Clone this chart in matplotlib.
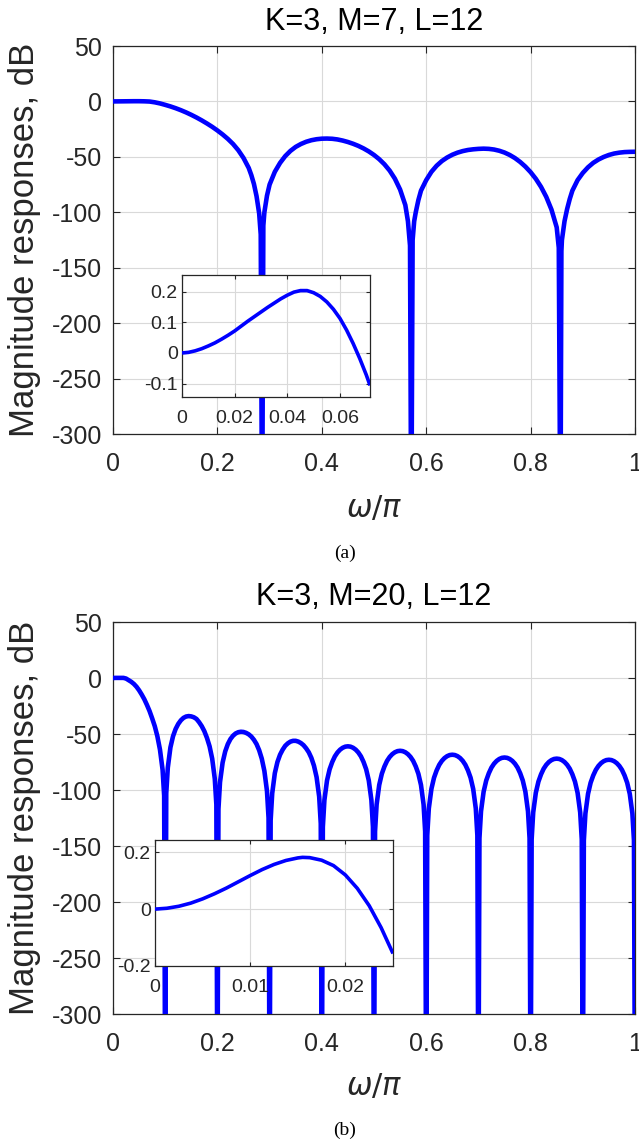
import matplotlib
matplotlib.use('Agg')
import matplotlib.pyplot as plt

plt.rcParams['font.family'] = ['Liberation Sans', 'DejaVu Sans']
plt.rcParams['axes.unicode_minus'] = False
plt.rcParams['mathtext.fontset'] = 'dejavusans'

# ---------------- data ----------------
# (a) K=3, M=7, L=12  -- magnitude response (dB); -400 marks the nulls (below the axis)
w_a = [0.00, 0.02, 0.04, 0.05, 0.06, 0.07, 0.08, 0.09, 0.10, 0.11, 0.12, 0.13, 0.14,
       0.15, 0.16, 0.17, 0.18, 0.19, 0.20, 0.21, 0.22, 0.23, 0.24, 0.25, 0.26, 0.265,
       0.27, 0.275, 0.28, 0.283, 0.2857,
       0.288, 0.29, 0.295, 0.30, 0.31, 0.32, 0.33, 0.34, 0.35, 0.36, 0.37, 0.38,
       0.39, 0.40, 0.41, 0.42, 0.43, 0.44, 0.45, 0.46, 0.47, 0.48, 0.49, 0.50,
       0.51, 0.52, 0.53, 0.54, 0.55, 0.56, 0.565, 0.569, 0.5714,
       0.574, 0.577, 0.58, 0.585, 0.59, 0.60, 0.61, 0.62, 0.63, 0.64, 0.65, 0.66,
       0.67, 0.68, 0.69, 0.70, 0.71, 0.72, 0.73, 0.74, 0.75, 0.76, 0.77, 0.78,
       0.79, 0.80, 0.81, 0.82, 0.83, 0.84, 0.85, 0.854, 0.8571,
       0.859, 0.86, 0.865, 0.87, 0.875, 0.88, 0.89, 0.90, 0.91, 0.92, 0.93, 0.94,
       0.95, 0.96, 0.97, 0.98, 0.99, 1.00]
db_a = [0.0, 0.1, 0.2, 0.2, 0.1, -0.1, -0.8, -1.8, -3.1, -4.5, -6.1, -7.9, -9.9,
        -12.1, -14.5, -17.1, -19.9, -22.9, -26.2, -29.8, -33.8, -38.4, -44.0, -51.0, -60.0, -66.5,
        -74.5, -85.5, -101.0, -120.0, -400.0,
        -112.0, -100.0, -85.0, -75.0, -63.5, -55.5, -49.3, -44.6, -41.0, -38.4, -36.4, -35.0,
        -34.1, -33.6, -33.5, -33.7, -34.3, -35.3, -36.6, -38.2, -40.1, -42.4, -45.1, -48.3,
        -52.1, -56.7, -62.4, -69.7, -79.5, -93.5, -108.0, -130.0, -400.0,
        -125.0, -108.0, -100.0, -89.0, -80.5, -71.0, -63.5, -58.0, -53.8, -50.6, -48.1, -46.2,
        -44.8, -43.8, -43.2, -42.8, -42.6, -42.8, -43.4, -44.5, -46.1, -48.3, -51.1, -54.6,
        -58.8, -63.8, -69.8, -77.1, -86.1, -97.6, -113.6, -132.0, -400.0,
        -135.0, -125.0, -108.0, -97.0, -88.0, -80.5, -71.0, -64.5, -59.4, -55.4, -52.4, -50.1,
        -48.3, -47.0, -46.2, -45.7, -45.5, -45.4]

# (a) inset: passband detail (dB)
wi_a = [0.0, 0.0025, 0.005, 0.0075, 0.01, 0.0125, 0.015, 0.0175, 0.02, 0.0225, 0.025,
        0.0275, 0.03, 0.0325, 0.035, 0.0375, 0.04, 0.0425, 0.045, 0.0475, 0.05, 0.0525,
        0.055, 0.0575, 0.06, 0.0625, 0.065, 0.0675, 0.07, 0.0714]
dbi_a = [0.0, 0.002, 0.007, 0.014, 0.023, 0.033, 0.045, 0.058, 0.072, 0.088, 0.104,
         0.119, 0.134, 0.149, 0.163, 0.177, 0.189, 0.199, 0.204, 0.204, 0.197, 0.185,
         0.167, 0.143, 0.113, 0.075, 0.031, -0.018, -0.072, -0.106]

# (b) K=3, M=20, L=12  -- magnitude response (dB)
w_b = [0.000, 0.005, 0.010, 0.015, 0.020, 0.025, 0.030, 0.035, 0.040, 0.045, 0.050,
       0.055, 0.060, 0.065, 0.070, 0.075, 0.080, 0.085, 0.090, 0.095, 0.098, 0.100,
       0.102, 0.105, 0.110, 0.115, 0.120, 0.125, 0.130, 0.135, 0.140, 0.145, 0.150,
       0.155, 0.160, 0.165, 0.170, 0.175, 0.180, 0.185, 0.190, 0.195, 0.198, 0.200,
       0.202, 0.205, 0.210, 0.215, 0.220, 0.225, 0.230, 0.235, 0.240, 0.245, 0.250,
       0.255, 0.260, 0.265, 0.270, 0.275, 0.280, 0.285, 0.290, 0.295, 0.298, 0.300,
       0.302, 0.305, 0.310, 0.315, 0.320, 0.325, 0.330, 0.335, 0.340, 0.345, 0.350,
       0.355, 0.360, 0.365, 0.370, 0.375, 0.380, 0.385, 0.390, 0.395, 0.398, 0.400,
       0.402, 0.405, 0.410, 0.415, 0.420, 0.425, 0.430, 0.435, 0.440, 0.445, 0.450,
       0.455, 0.460, 0.465, 0.470, 0.475, 0.480, 0.485, 0.490, 0.495, 0.498, 0.500,
       0.502, 0.505, 0.510, 0.515, 0.520, 0.525, 0.530, 0.535, 0.540, 0.545, 0.550,
       0.555, 0.560, 0.565, 0.570, 0.575, 0.580, 0.585, 0.590, 0.595, 0.598, 0.600,
       0.602, 0.605, 0.610, 0.615, 0.620, 0.625, 0.630, 0.635, 0.640, 0.645, 0.650,
       0.655, 0.660, 0.665, 0.670, 0.675, 0.680, 0.685, 0.690, 0.695, 0.698, 0.700,
       0.702, 0.705, 0.710, 0.715, 0.720, 0.725, 0.730, 0.735, 0.740, 0.745, 0.750,
       0.755, 0.760, 0.765, 0.770, 0.775, 0.780, 0.785, 0.790, 0.795, 0.798, 0.800,
       0.802, 0.805, 0.810, 0.815, 0.820, 0.825, 0.830, 0.835, 0.840, 0.845, 0.850,
       0.855, 0.860, 0.865, 0.870, 0.875, 0.880, 0.885, 0.890, 0.895, 0.898, 0.900,
       0.902, 0.905, 0.910, 0.915, 0.920, 0.925, 0.930, 0.935, 0.940, 0.945, 0.950,
       0.955, 0.960, 0.965, 0.970, 0.975, 0.980, 0.985, 0.990, 0.995, 0.998, 1.000]
db_b = [0.0, 0.1, 0.1, 0.1, 0.1, -0.5, -2.0, -3.4, -5.3, -7.8, -11.0,
        -14.8, -19.0, -24.0, -29.5, -36.0, -43.0, -52.0, -64.0, -82.0, -105.0, -400.0,
        -103.0, -80.0, -62.0, -52.0, -45.5, -41.0, -37.8, -35.6, -34.4, -34.0, -34.3,
        -35.1, -36.6, -39.5, -43.0, -47.5, -53.5, -61.0, -72.0, -90.0, -113.0, -400.0,
        -117.0, -93.0, -75.5, -65.5, -59.0, -54.5, -51.5, -49.5, -48.4, -48.0, -48.2,
        -49.0, -50.3, -52.3, -55.2, -59.0, -64.5, -72.0, -83.0, -101.0, -125.0, -400.0,
        -127.0, -103.0, -85.0, -75.0, -68.5, -64.0, -60.5, -58.3, -56.8, -56.1, -56.1,
        -56.8, -58.1, -60.0, -62.8, -66.3, -71.3, -78.3, -88.5, -106.0, -130.0, -400.0,
        -133.0, -109.0, -91.5, -81.5, -75.0, -70.0, -66.5, -64.0, -62.3, -61.3, -61.0,
        -61.3, -62.3, -64.0, -66.5, -70.0, -75.0, -81.5, -91.5, -109.0, -133.0, -400.0,
        -137.0, -113.0, -95.5, -85.5, -79.0, -74.0, -70.5, -68.0, -66.3, -65.3, -65.0,
        -65.3, -66.3, -68.0, -70.5, -74.0, -79.0, -85.5, -95.5, -113.0, -137.0, -400.0,
        -140.5, -116.5, -99.0, -89.0, -82.5, -77.5, -74.0, -71.5, -69.8, -68.8, -68.5,
        -68.8, -69.8, -71.5, -74.0, -77.5, -82.5, -89.0, -99.0, -116.5, -140.5, -400.0,
        -143.0, -119.0, -101.5, -91.5, -85.0, -80.0, -76.5, -74.0, -72.3, -71.3, -71.0,
        -71.3, -72.3, -74.0, -76.5, -80.0, -85.0, -91.5, -101.5, -119.0, -143.0, -400.0,
        -144.0, -120.0, -102.5, -92.5, -86.0, -81.0, -77.5, -75.0, -73.3, -72.3, -72.0,
        -72.3, -73.3, -75.0, -77.5, -81.0, -86.0, -92.5, -102.5, -120.0, -144.0, -400.0,
        -145.0, -121.0, -103.5, -93.5, -87.0, -82.0, -78.5, -76.0, -74.3, -73.3, -73.0,
        -73.3, -74.3, -76.0, -78.5, -82.0, -87.0, -93.5, -103.5, -121.0, -145.0, -400.0]

# (b) inset: passband detail (dB)
wi_b = [0.0, 0.00125, 0.0025, 0.00375, 0.005, 0.00625, 0.0075, 0.00875, 0.01, 0.01125,
        0.0125, 0.01375, 0.015, 0.0155, 0.01625, 0.0175, 0.01875, 0.02, 0.02125, 0.0225,
        0.02375, 0.025]
dbi_b = [0.0, 0.003, 0.010, 0.021, 0.036, 0.054, 0.074, 0.096, 0.118, 0.139,
         0.157, 0.171, 0.180, 0.182, 0.181, 0.172, 0.153, 0.120, 0.073, 0.012,
         -0.065, -0.156]

titles = ['K=3, M=7, L=12', 'K=3, M=20, L=12']
sub_labels = ['(a)', '(b)']
main_yticks = [-300, -250, -200, -150, -100, -50, 0, 50]
main_xticks = [0, 0.2, 0.4, 0.6, 0.8, 1.0]
main_xticklabels = ['0', '0.2', '0.4', '0.6', '0.8', '1']
ins_a_xticks = [0, 0.02, 0.04, 0.06]
ins_a_xticklabels = ['0', '0.02', '0.04', '0.06']
ins_a_yticks = [-0.1, 0, 0.1, 0.2]
ins_a_yticklabels = ['-0.1', '0', '0.1', '0.2']
ins_b_xticks = [0, 0.01, 0.02]
ins_b_xticklabels = ['0', '0.01', '0.02']
ins_b_yticks = [-0.2, 0, 0.2]
ins_b_yticklabels = ['-0.2', '0', '0.2']

# ---------------- drawing ----------------
W, H = 639, 1144
fig = plt.figure(figsize=(W / 100, H / 100), dpi=100)
fig.patch.set_facecolor('white')

AX_COL = '#262626'
GRID_COL = '#d9d9d9'
BLUE = '#0000ff'


def frac(left, top, right, bottom):
    return [left / W, 1 - bottom / H, (right - left) / W, (bottom - top) / H]


def style(ax, fs, padx, pady, tlen):
    for s in ax.spines.values():
        s.set_color(AX_COL)
        s.set_linewidth(0.9)
    ax.tick_params(direction='in', top=True, right=True, colors=AX_COL,
                   labelsize=fs, length=tlen, width=0.8)
    ax.tick_params(axis='x', pad=padx)
    ax.tick_params(axis='y', pad=pady)
    ax.grid(True, color=GRID_COL, linewidth=0.8)
    ax.set_axisbelow(True)


def main_panel(rect, w, db, title, title_y, xlabel_y, sub, sub_y):
    ax = fig.add_axes(frac(*rect))
    ax.plot(w, db, color=BLUE, lw=3.3, solid_joinstyle='round', zorder=3)
    ax.set_xlim(0, 1)
    ax.set_ylim(-300, 50)
    ax.set_yticks(main_yticks)
    ax.set_xticks(main_xticks)
    ax.set_xticklabels(main_xticklabels)
    style(ax, 18, 13, 8, 5)
    cx = (rect[0] + rect[2]) / 2 / W
    fig.text(cx, 1 - title_y / H, title, ha='center', va='center',
             fontsize=22, color='black')
    fig.text(cx, 1 - xlabel_y / H, r'$\omega/\pi$', ha='center', va='center',
             fontsize=22, color=AX_COL)
    cy = 1 - (rect[1] + rect[3]) / 2 / H
    fig.text(24.5 / W, cy, 'Magnitude responses, dB', rotation=90,
             ha='center', va='center', fontsize=25, color=AX_COL)
    fig.text(345 / W, 1 - sub_y / H, sub, ha='center', va='center',
             fontsize=14, family='Liberation Serif', color='black')
    return ax


def inset(rect, w, db, xlim, ylim, xt, xtl, yt, ytl):
    ax = fig.add_axes(frac(*rect))
    ax.set_facecolor('white')
    ax.plot(w, db, color=BLUE, lw=2.6, solid_joinstyle='round',
            solid_capstyle='butt', zorder=3)
    ax.set_xlim(*xlim)
    ax.set_ylim(*ylim)
    ax.set_xticks(xt)
    ax.set_xticklabels(xtl)
    ax.set_yticks(yt)
    ax.set_yticklabels(ytl)
    style(ax, 14, 9, 3, 3)
    return ax


main_panel((113, 46, 635, 434), w_a, db_a, titles[0], 22.5, 509, sub_labels[0], 553)
inset((182, 275, 370, 397), wi_a, dbi_a, (0, 0.0714), (-0.144, 0.255),
      ins_a_xticks, ins_a_xticklabels, ins_a_yticks, ins_a_yticklabels)

main_panel((113, 622, 635, 1014), w_b, db_b, titles[1], 597, 1087, sub_labels[1], 1130)
inset((155, 840, 393, 966), wi_b, dbi_b, (0, 0.025), (-0.195, 0.243),
      ins_b_xticks, ins_b_xticklabels, ins_b_yticks, ins_b_yticklabels)

fig.savefig('out.png', dpi=100, facecolor='white')
